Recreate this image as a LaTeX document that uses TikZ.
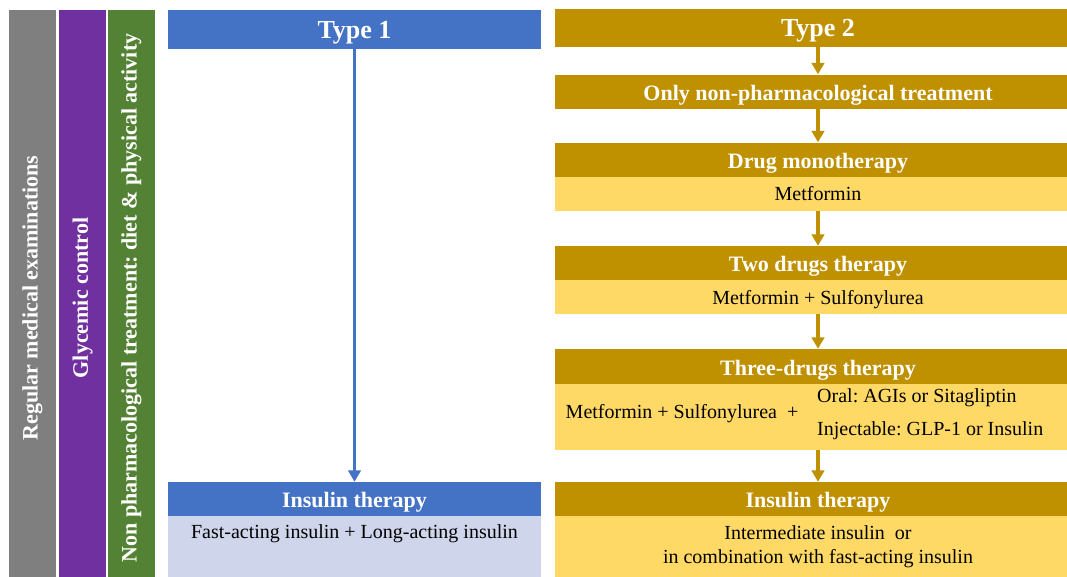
\documentclass[tikz,border=0pt]{standalone}
\usepackage{fontspec}
\setmainfont{Liberation Serif}
\usetikzlibrary{arrows.meta}
\frenchspacing

\definecolor{examgray}{HTML}{7F7F7F}
\definecolor{glycpurple}{HTML}{7030A0}
\definecolor{dietgreen}{HTML}{548235}
\definecolor{tonedark}{HTML}{4472C4}
\definecolor{tonelight}{HTML}{CFD5EA}
\definecolor{ttwodark}{HTML}{BF9000}
\definecolor{ttwolight}{HTML}{FFD966}

\tikzset{
  bar/.style={rotate=90, minimum width=576pt, minimum height=47pt, inner sep=0pt,
    text=white, font=\bfseries\fontsize{22}{26}\selectfont},
  head/.style={minimum height=34pt, inner sep=0pt, text=white,
    text height=17.5pt, text depth=0pt,
    font=\bfseries\fontsize{22}{26}\selectfont},
  typehead/.style={head, text height=17.6pt, font=\bfseries\fontsize{26}{30}\selectfont},
  body/.style={minimum height=34pt, inner sep=0pt, align=center,
    font=\fontsize{20}{24}\selectfont},
  oneline/.style={text height=14pt, text depth=0pt},
  drug/.style={inner sep=0pt, font=\fontsize{20}{24}\selectfont},
  flow/.style={-{Triangle[width=12.5pt,length=11.5pt]}, line width=3.3pt},
}

\begin{document}
\begin{tikzpicture}[x=1pt,y=-1pt]
    \useasboundingbox (0,0) rectangle (1067,576);
    \clip (0,0) rectangle (1067,576);

    % Side bars
    \node[bar, fill=examgray] (exam) at (32.5, 298) {Regular medical examinations};
    \node[bar, fill=glycpurple] (glyc) at (82.5, 298) {Glycemic control};
    \node[bar, fill=dietgreen] (diet) at (131.5, 298) {Non pharmacological treatment: diet \& physical activity};

    % Type 1
    \begin{scope}[every node/.append style={minimum width=373pt}]
        \node[typehead, fill=tonedark, minimum height=39pt] (t1) at (354.5, 29.5) {Type 1};
        \node[head, fill=tonedark] (t1ins) at (354.5, 499) {Insulin therapy};
        \node[body, fill=tonelight, minimum height=62pt, text depth=31pt] (t1insB) at (354.5, 547) {Fast-acting insulin + Long-acting insulin};
    \end{scope}

    % Type 2
    \begin{scope}[every node/.append style={minimum width=526pt}]
        \node[typehead, fill=ttwodark, minimum height=38pt] (t2) at (818, 28) {Type 2};
        \node[head, fill=ttwodark] (t2only) at (818, 91.5) {Only non-pharmacological treatment};
        \node[head, fill=ttwodark] (t2mono) at (818, 159.5) {Drug monotherapy};
        \node[body, oneline, fill=ttwolight] (t2monoB) at (818, 193.5) {Metformin};
        \node[head, fill=ttwodark] (t2two) at (818, 263) {Two drugs therapy};
        \node[body, oneline, fill=ttwolight] (t2twoB) at (818, 297) {Metformin + Sulfonylurea};
        \node[head, fill=ttwodark, minimum height=35pt] (t2three) at (818, 366.5) {Three-drugs therapy};
        \node[body, fill=ttwolight, minimum height=66pt] (t2threeB) at (818, 417) {};
        \node[head, fill=ttwodark] (t2ins) at (818, 499) {Insulin therapy};
        \node[body, fill=ttwolight, minimum height=62pt] (t2insB) at (818, 547) {Intermediate insulin\ \ or\\in combination with fast-acting insulin};
    \end{scope}

    % Three-drugs choices
    \node[drug] (t2base) at (682, 414) {Metformin + Sulfonylurea\ \ +};
    \node[drug, anchor=west] (t2oral) at (817, 398) {Oral: AGIs or Sitagliptin};
    \node[drug, anchor=west] (t2inj) at (817, 431) {Injectable: GLP-1 or Insulin};

    \path[tonedark] (t1) edge[flow] (t1ins);

    \path[ttwodark] (t2) edge[flow] (t2only);
    \path[ttwodark] (t2only) edge[flow] (t2mono);
    \path[ttwodark] (t2monoB) edge[flow] (t2two);
    \path[ttwodark] (t2twoB) edge[flow] (t2three);
    \path[ttwodark] (t2threeB) edge[flow] (t2ins);
\end{tikzpicture}
\end{document}
